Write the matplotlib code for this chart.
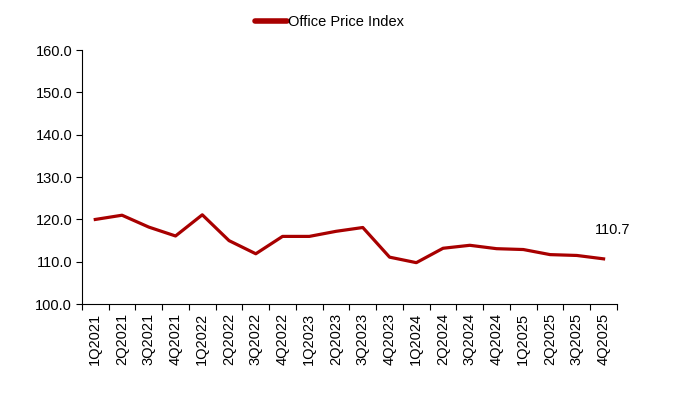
import matplotlib.pyplot as plt
import numpy as np

plt.rcParams['font.family'] = ['Liberation Sans', 'DejaVu Sans']

quarters = ['1Q2021', '2Q2021', '3Q2021', '4Q2021', '1Q2022', '2Q2022', '3Q2022', '4Q2022',
            '1Q2023', '2Q2023', '3Q2023', '4Q2023', '1Q2024', '2Q2024', '3Q2024', '4Q2024',
            '1Q2025', '2Q2025', '3Q2025', '4Q2025']
price_index = [120.0, 121.0, 118.2, 116.1, 121.1, 115.0, 111.9, 116.0, 116.0, 117.2,
               118.1, 111.1, 109.8, 113.2, 113.9, 113.1, 112.9, 111.7, 111.5, 110.7]

red = '#A80000'

fig = plt.figure(figsize=(6.94, 3.94), dpi=100)
ax = fig.add_axes([0.118, 0.228, 0.771, 0.645])

x = np.arange(len(quarters))
line, = ax.plot(x, price_index, color=red, lw=2.3, solid_joinstyle='round')

ax.set_xlim(-0.5, len(quarters) - 0.5)
ax.set_ylim(100, 160)
ax.set_yticks(np.arange(100, 161, 10))
ax.set_yticklabels([f'{v:.1f}' for v in np.arange(100, 161, 10)], fontsize=10.5)

ax.set_xticks(np.arange(-0.5, len(quarters), 1))
ax.set_xticklabels([])
ax.set_xticks(x, minor=True)
ax.set_xticklabels(quarters, minor=True, rotation=90, fontsize=10.5)
ax.tick_params(axis='x', which='minor', length=0, pad=6)
ax.tick_params(axis='x', which='major', length=4, direction='out', width=0.8)
ax.tick_params(axis='y', length=4, direction='out', width=0.8, pad=3)

for s in ['top', 'right']:
    ax.spines[s].set_visible(False)

ax.annotate(f'{price_index[-1]:.1f}', (x[-1], price_index[-1]), xytext=(6.5, 16),
            textcoords='offset points', ha='center', va='bottom', fontsize=10.5)

handle = plt.Line2D([], [], color=red, lw=4, solid_capstyle='round')
fig.legend([handle], ['Office Price Index'], loc='center', bbox_to_anchor=(0.475, 0.945),
           frameon=False, fontsize=10.5, handlelength=2.2, handletextpad=0.1)

fig.savefig('out.png', dpi=100)
